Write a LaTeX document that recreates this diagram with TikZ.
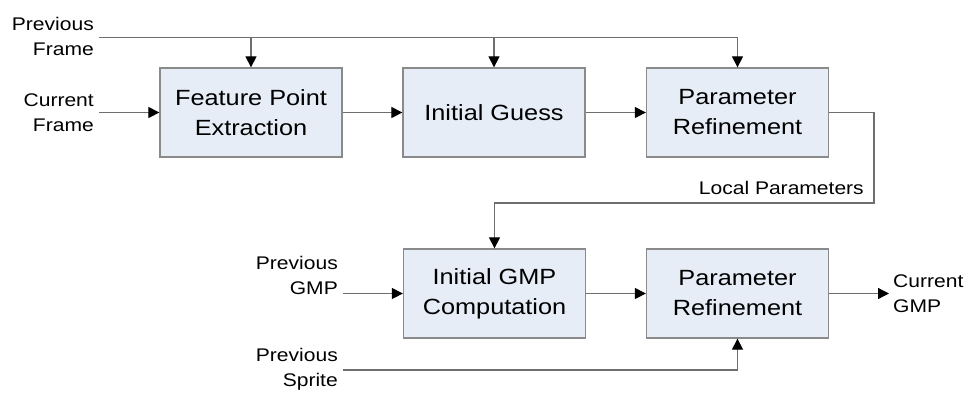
\documentclass[tikz,border=0pt]{standalone}
\usepackage{fontspec}
\setmainfont[FakeStretch=1.15]{Liberation Sans}
\usetikzlibrary{arrows.meta}
\definecolor{boxfill}{HTML}{E6EDF7}
\definecolor{boxline}{HTML}{8A8A8A}
\definecolor{wire}{HTML}{6E6E6E}
\tikzset{
  block/.style={draw=boxline, fill=boxfill, line width=1.3pt, minimum width=182pt,
    minimum height=89pt, align=center, inner sep=0pt,
    font=\fontsize{22}{30}\selectfont},
  lbl/.style={align=right, inner sep=0pt, font=\fontsize{18.3}{25}\selectfont},
  lblL/.style={align=left, inner sep=0pt, font=\fontsize{18.3}{25}\selectfont},
  flow/.style={draw=wire, line width=1.2pt,
    -{Triangle[length=11pt,width=11pt,color=black]}},
  wireline/.style={draw=wire, line width=1.2pt},
}
\begin{document}
\begin{tikzpicture}[x=1pt,y=-1pt]
\useasboundingbox (0,0) rectangle (969,392);

% processing blocks
\node[block] (fpe) at (251,112.5) {Feature Point\\Extraction};
\node[block] (ig)  at (494,112.5) {Initial Guess};
\node[block] (prt) at (737.5,112.5) {Parameter\\Refinement};
\node[block] (gmp) at (494.5,293.5) {Initial GMP\\Computation};
\node[block] (prb) at (737.5,293.5) {Parameter\\Refinement};

% input / output labels
\node[lbl, anchor=east] (pfl) at (94,36) {Previous\\Frame};
\node[lbl, anchor=east] (cfl) at (94,112.5) {Current\\Frame};
\node[lbl, anchor=east] (pgl) at (338,275.5) {Previous\\GMP};
\node[lbl, anchor=east] (psl) at (338,369.5) {Previous\\Sprite};
\node[lblL, anchor=west] (cgl) at (893,294) {Current\\GMP};
\node[lbl, anchor=east] (lpl) at (864,188) {Local Parameters};

% wire end points
\coordinate (pfs) at (99,37.5);
\coordinate (cfs) at (99,112.5);
\coordinate (pgs) at (343,293.5);
\coordinate (pss) at (343,370);
\coordinate (cge) at (889,293.5);
\coordinate (lpc) at (874,203);

% previous frame bus
\draw[wireline] (pfs) -- (prt.north |- pfs);
\draw[flow] (fpe.north |- pfs) -- (fpe.north);
\draw[flow] (ig.north |- pfs) -- (ig.north);
\draw[flow] (prt.north |- pfs) -- (prt.north);

% top chain
\draw[flow] (cfs) -- (fpe.west);
\draw[flow] (fpe.east) -- (ig.west);
\draw[flow] (ig.east) -- (prt.west);

% local parameters feedback
\draw[flow] (prt.east) -| (lpc) -| (gmp.north);

% bottom chain
\draw[flow] (pgs) -- (gmp.west);
\draw[flow] (gmp.east) -- (prb.west);
\draw[flow] (pss) -| (prb.south);
\draw[flow] (prb.east) -- (cge);
\end{tikzpicture}
\end{document}
